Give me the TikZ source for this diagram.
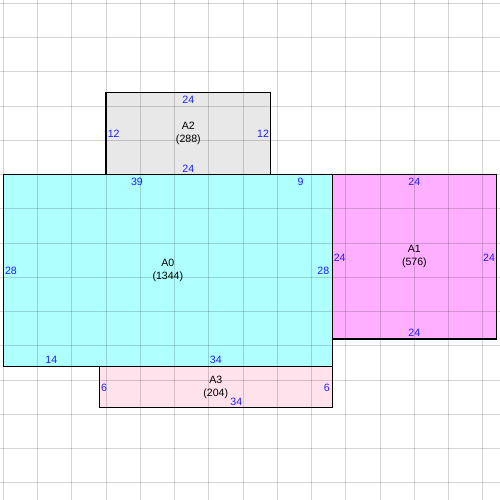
\documentclass[tikz,border=0pt]{standalone}
\usepackage{fontspec}
\setmainfont{Liberation Sans}
\usetikzlibrary{positioning}
\definecolor{dimblue}{RGB}{30,30,255}
\definecolor{roomcyan}{RGB}{175,255,255}
\definecolor{roommagenta}{RGB}{255,175,255}
\definecolor{roomgray}{RGB}{232,232,232}
\definecolor{roompink}{RGB}{255,226,236}

\begin{document}
\begin{tikzpicture}[x=2.5mm, y=-2.5mm,
    wall/.style={draw=black, line width=1.4pt},
    gridline/.style={black, opacity=0.17, line width=1pt},
    dim/.style={text=dimblue, font=\fontsize{11}{13}\selectfont, inner sep=0pt},
    roomname/.style={align=center, font=\fontsize{11}{13.5}\selectfont, inner sep=0pt}
]

\useasboundingbox (-0.5,-0.5) rectangle (72.5,72.5);

% fills first, grid shows through
\fill[roomgray]    (15,13) rectangle (39,25);
\fill[roomcyan]    (0,25)  rectangle (48,53);
\fill[roommagenta] (48,25) rectangle (72,49);
\fill[roompink]    (14,53) rectangle (48,59);

\foreach \k in {0,5,...,70} {
  \draw[gridline] (\k,-0.5) -- (\k,72.5);
  \draw[gridline] (-0.5,\k) -- (72.5,\k);
}

\draw[wall] (15,13) rectangle (39,25);
\draw[wall] (14,53) rectangle (48,59);
\draw[wall] (48,25) rectangle (72,49);
\draw[wall] (0,25)  rectangle (48,53);

% A0
\node[roomname] (a0) at (24,39) {A0\\(1344)};
\node[dim] (a0top1) at (19.5,26.1) {39};
\node[dim] (a0top2) at (43.4,26.1) {9};
\node[dim] (a0left) at (1.1,39.1) {28};
\node[dim] (a0right) at (46.7,39.1) {28};
\node[dim] (a0bot1) at (7,52.1) {14};
\node[dim] (a0bot2) at (31,52.1) {34};

% A1
\node[roomname] (a1) at (60,37) {A1\\(576)};
\node[dim] (a1top) at (60,26.1) {24};
\node[dim] (a1left) at (49.1,37.1) {24};
\node[dim] (a1right) at (70.9,37.1) {24};
\node[dim] (a1bot) at (60,48.1) {24};

% A2
\node[roomname] (a2) at (27,19) {A2\\(288)};
\node[dim] (a2top) at (27,14) {24};
\node[dim] (a2left) at (16.1,19.1) {12};
\node[dim] (a2right) at (37.9,19.1) {12};
\node[dim] (a2bot) at (27,24.1) {24};

% A3
\node[roomname] (a3) at (31,56) {A3\\(204)};
\node[dim] (a3left) at (14.7,56.1) {6};
\node[dim] (a3right) at (47.2,56.1) {6};
\node[dim] (a3bot) at (34,58.2) {34};

\end{tikzpicture}
\end{document}
